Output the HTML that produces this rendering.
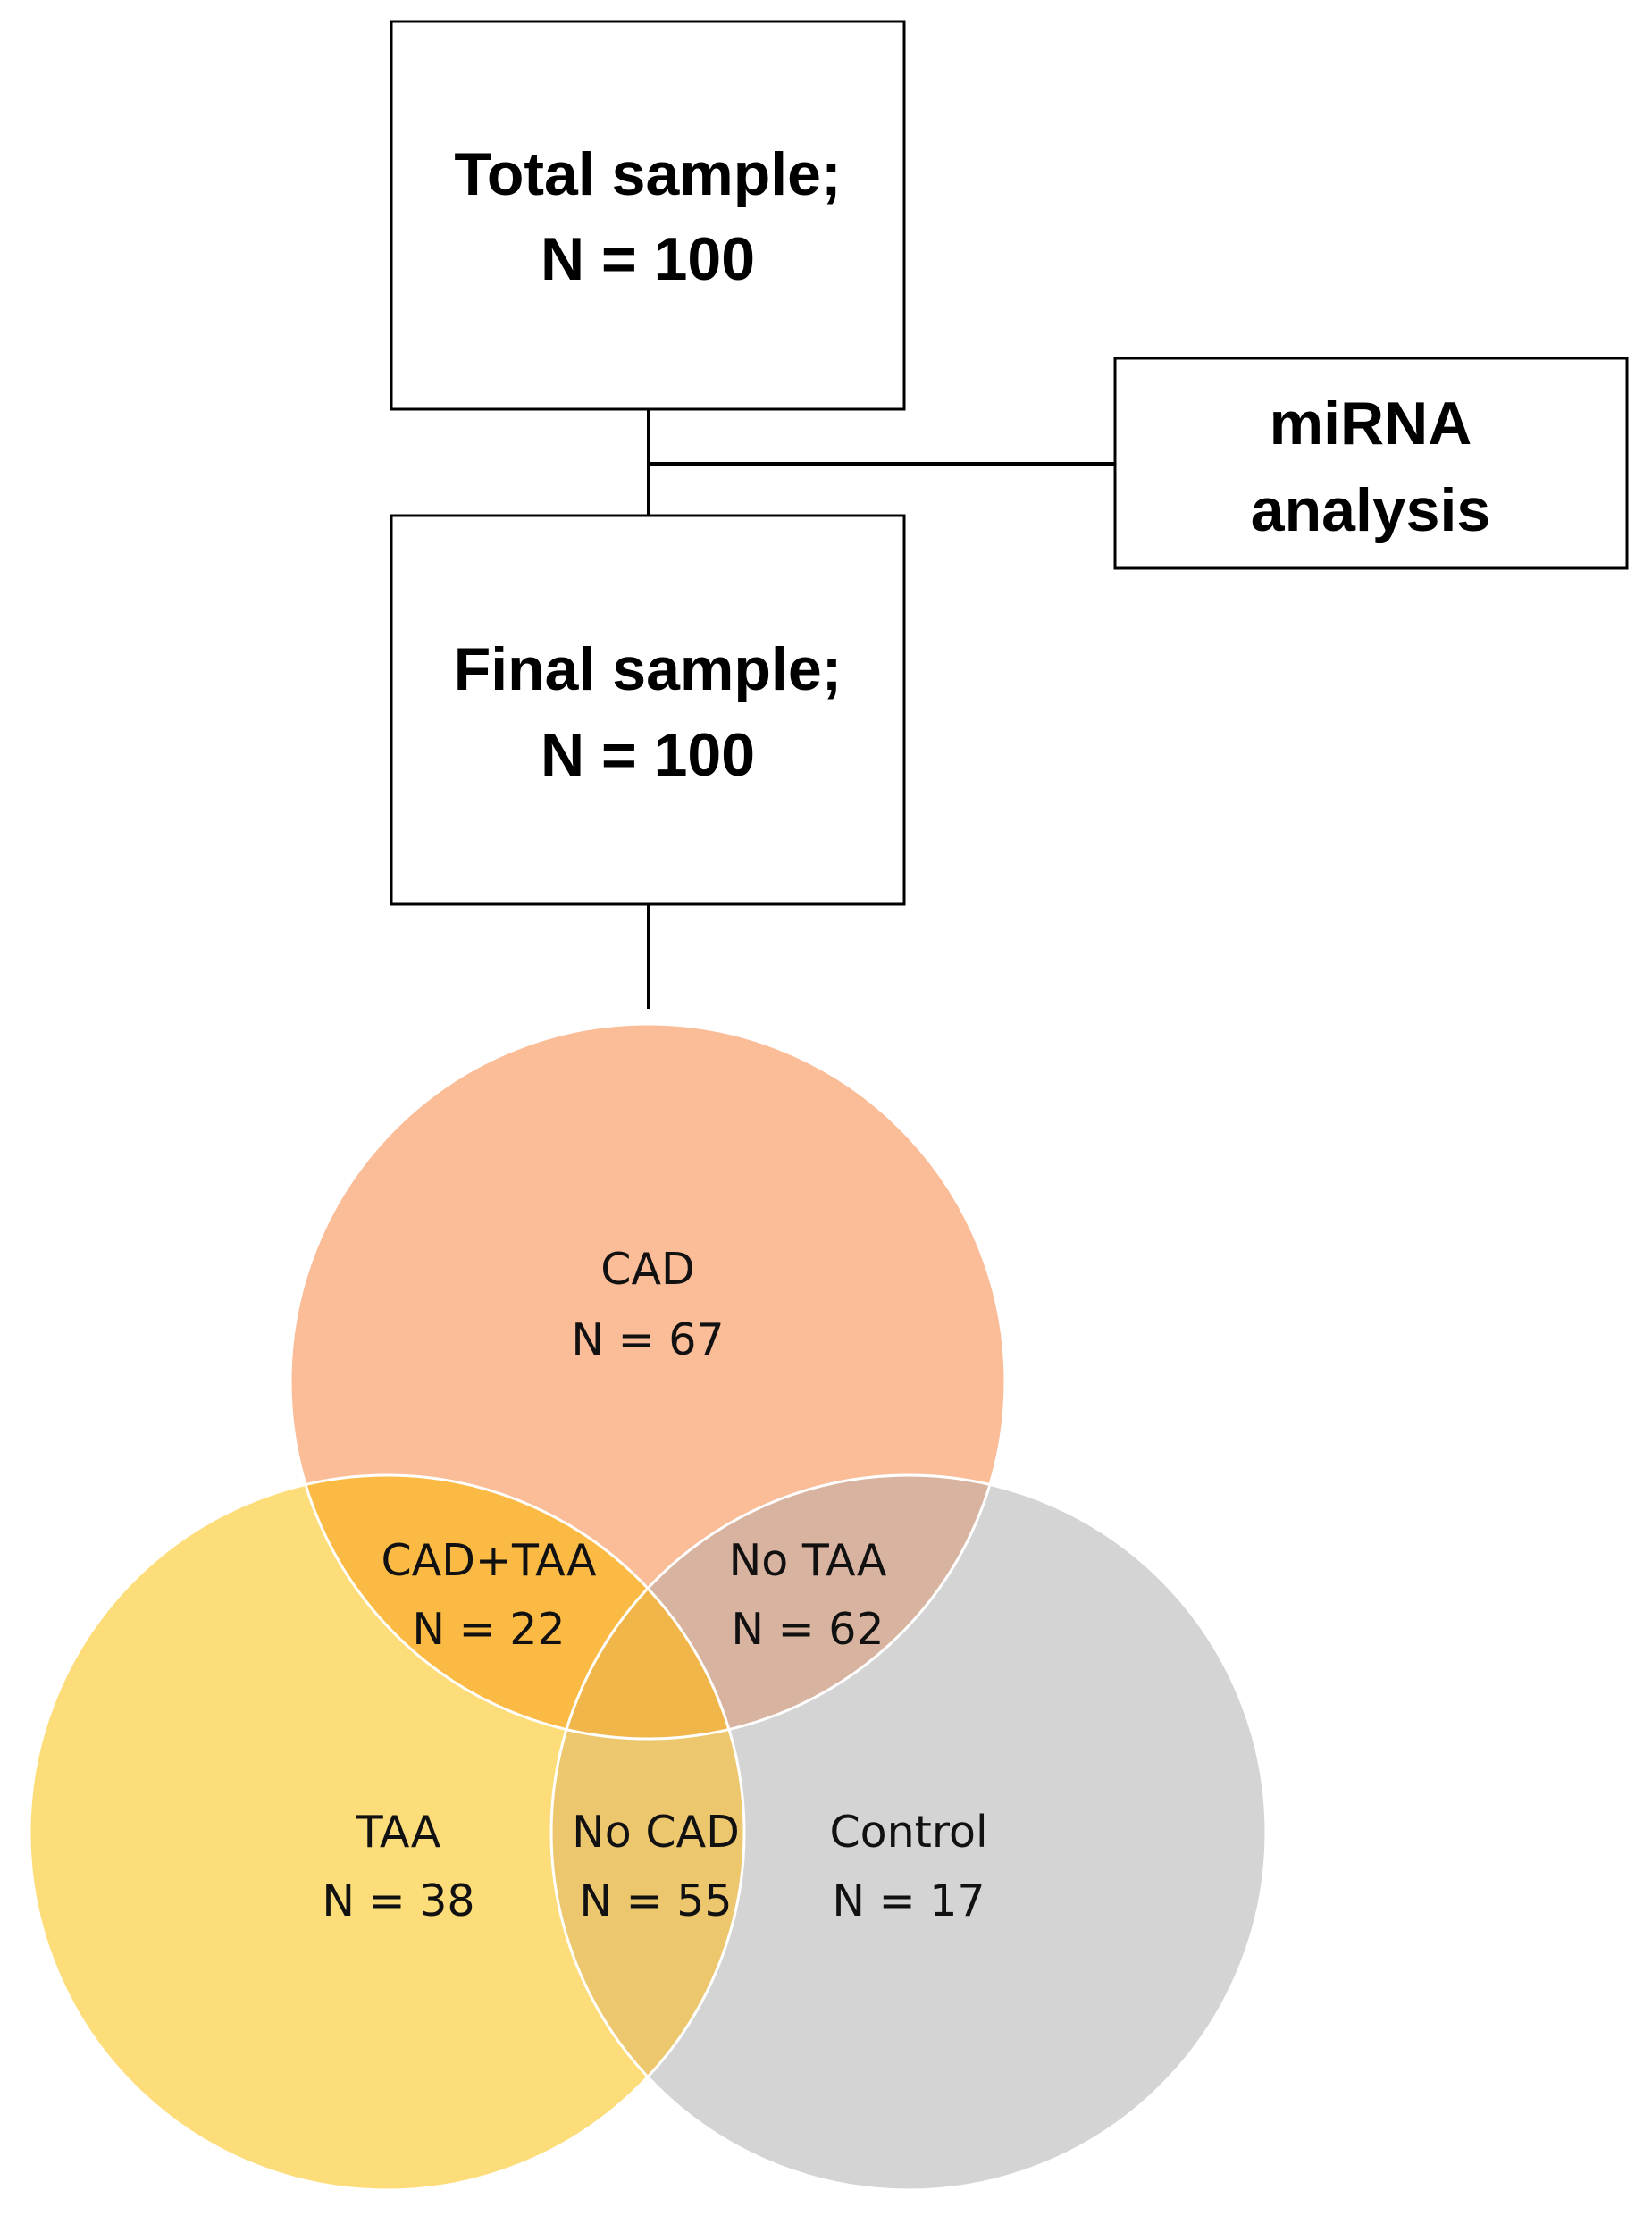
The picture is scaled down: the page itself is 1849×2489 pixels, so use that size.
<!DOCTYPE html>
<html><head><meta charset="utf-8"><style>
html,body{margin:0;padding:0;background:#fff;}
svg{display:block;}
</style></head><body>
<svg width="1849" height="2489" viewBox="0 0 1849 2489" xmlns="http://www.w3.org/2000/svg">
<defs>
<clipPath id="cCAD"><circle cx="725" cy="1546" r="400"/></clipPath>
<clipPath id="cTAA"><circle cx="433" cy="2051" r="400"/></clipPath>
<clipPath id="cCON"><circle cx="1017" cy="2051" r="400"/></clipPath>
</defs>
<g stroke="#000" stroke-width="3" fill="#fff">
<rect x="438" y="24" width="574" height="434"/>
<rect x="1248" y="401" width="573" height="235"/>
<rect x="438" y="577" width="574" height="435"/>
</g>
<g stroke="#000" stroke-width="4">
<line x1="726" y1="458" x2="726" y2="577"/>
<line x1="726" y1="519" x2="1248" y2="519"/>
<line x1="726" y1="1012" x2="726" y2="1129"/>
</g>
<g font-family="Liberation Sans, sans-serif" font-weight="bold" font-size="68" text-anchor="middle" fill="#000">
<text x="725" y="218">Total sample;</text>
<text x="725" y="313">N = 100</text>
<text x="1534" y="497">miRNA</text>
<text x="1534" y="594">analysis</text>
<text x="725" y="772">Final sample;</text>
<text x="725" y="868">N = 100</text>
</g>
<circle cx="1017" cy="2051" r="400" fill="#d4d4d4"/>
<circle cx="433" cy="2051" r="400" fill="#fddd7a"/>
<circle cx="725" cy="1546" r="400" fill="#fbbc98"/>
<g clip-path="url(#cCAD)"><circle cx="433" cy="2051" r="400" fill="#fbba44"/><circle cx="1017" cy="2051" r="400" fill="#d8b3a0"/></g>
<g clip-path="url(#cTAA)"><circle cx="1017" cy="2051" r="400" fill="#ecc76e"/></g>
<g clip-path="url(#cTAA)"><g clip-path="url(#cCON)"><circle cx="725" cy="1546" r="400" fill="#f1b64a"/></g></g>
<g fill="none" stroke="#fff" stroke-width="3">
<circle cx="725" cy="1546" r="400"/>
<circle cx="433" cy="2051" r="400"/>
<circle cx="1017" cy="2051" r="400"/>
</g>
<g font-family="DejaVu Sans, Liberation Sans, sans-serif" font-size="49" text-anchor="middle" fill="#111">
<text x="725" y="1437">CAD</text>
<text x="725" y="1516">N = 67</text>
<text x="547" y="1763">CAD+TAA</text>
<text x="547" y="1840">N = 22</text>
<text x="904" y="1763">No TAA</text>
<text x="904" y="1840">N = 62</text>
<text x="446" y="2067">TAA</text>
<text x="446" y="2144">N = 38</text>
<text x="734" y="2067">No CAD</text>
<text x="734" y="2144">N = 55</text>
<text x="1017" y="2067">Control</text>
<text x="1017" y="2144">N = 17</text>
</g>
</svg>
</body></html>
